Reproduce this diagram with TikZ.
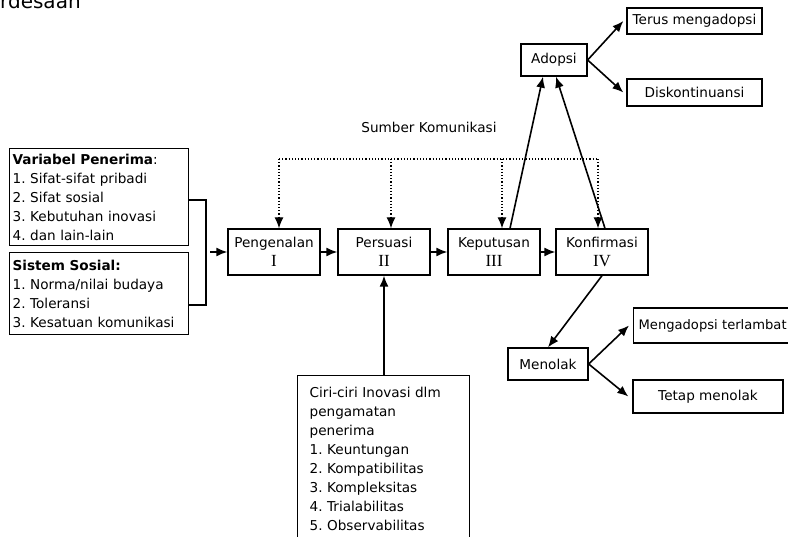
\documentclass[tikz,border=0pt]{standalone}
\usepackage{fontspec}
\setmainfont{DejaVu Sans}
\newfontfamily\romfont{Liberation Serif}
\usetikzlibrary{arrows.meta}
\frenchspacing
\newcommand\romnum[1]{{\romfont\fontsize{17}{19}\selectfont #1}}
\begin{document}
\begin{tikzpicture}[x=1pt, y=-1pt, font=\fontsize{13.6}{19}\selectfont,
  box/.style={draw=black, line width=1.3pt, inner sep=0pt, align=center},
  tahap/.style={box, minimum width=92pt, minimum height=46pt},
  daftar/.style={draw=black, line width=1.3pt, anchor=north west, align=left, inner xsep=3pt, inner ysep=2pt},
  arr/.style={line width=1.6pt, -{Latex[length=11pt,width=9pt]}},
  titik/.style={line width=1.2pt, dotted}]
\useasboundingbox (0,0) rectangle (788,537);
% Judul (terpotong di atas)
\node[anchor=base west, inner sep=0pt, font=\fontsize{20}{24}\selectfont] (judul) at (0,9) {rdesaan};
% Variabel penerima dan sistem sosial
\node[daftar, text width=173pt, minimum height=97pt] (varpen) at (9,148) {\textbf{Variabel Penerima}:\\1. Sifat-sifat pribadi\\2. Sifat sosial\\3. Kebutuhan inovasi\\4. dan lain-lain};
\node[daftar, text width=173pt, minimum height=82pt] (sissos) at (9,252) {\textbf{Sistem Sosial:}\\1. Norma/nilai budaya\\2. Toleransi\\3. Kesatuan komunikasi};
\coordinate (kA) at (206,200); \coordinate (kB) at (206,305);
\draw[line width=1.3pt] (varpen.east |- kA) -- (kA) -- (kB) -- (sissos.east |- kB);
% Tahapan keputusan
\node[tahap] (peng) at (274,252) {Pengenalan\\\romnum{I}};
\node[tahap] (pers) at (384,252) {Persuasi\\\romnum{II}};
\node[tahap] (kepu) at (494,252) {Keputusan\\\romnum{III}};
\node[tahap] (konf) at (602,252) {Konfirmasi\\\romnum{IV}};
\draw[arr] ([xshift=4pt]kA |- peng.west) -- (peng.west);
\foreach \a/\b in {peng/pers, pers/kepu, kepu/konf} \draw[arr] (\a) -- (\b);
% Sumber komunikasi
\node (sumber) at (429,127) {Sumber Komunikasi};
\coordinate (d1) at (279,159); \coordinate (d2) at (391,159); \coordinate (d3) at (502,159); \coordinate (d4) at (598,159);
\draw[titik] (d1) -- (d4);
\foreach \d/\t in {d1/peng, d2/pers, d3/kepu, d4/konf} \draw[arr, titik] (\d) -- (\d |- \t.north);
% Adopsi
\node[box, minimum width=66pt, minimum height=32pt] (adopsi) at (554,60) {Adopsi};
\node[box, minimum width=135pt, minimum height=26pt] (terus) at (694.5,21) {Terus mengadopsi};
\node[box, minimum width=135pt, minimum height=27pt] (disk) at (694.5,92.5) {Diskontinuansi};
\draw[arr] ([xshift=16pt]kepu.north) -- ([xshift=-11pt]adopsi.south);
\draw[arr] ([xshift=3pt]konf.north) -- ([xshift=2pt]adopsi.south);
\draw[arr] (adopsi.east) -- ([xshift=-3pt]terus.west);
\draw[arr] (adopsi.east) -- ([xshift=-3pt]disk.west);
% Menolak
\node[box, minimum width=80pt, minimum height=32pt] (menolak) at (548,364) {Menolak};
\node[box, anchor=west, text width=161pt, minimum height=35pt, align=left, inner xsep=5pt, font=\fontsize{13.1}{19}\selectfont] (telat) at (633,325.5) {Mengadopsi terlambat};
\node[box, minimum width=150pt, minimum height=33pt] (tetap) at (708,396.5) {Tetap menolak};
\draw[arr] (konf.south) -- (menolak.north);
\draw[arr] (menolak.east) -- ([xshift=-4pt]telat.west);
\draw[arr] (menolak.east) -- ([xshift=-4pt]tetap.west);
% Ciri-ciri inovasi
\node[box, anchor=north west, align=left, text width=148pt, inner xsep=12pt, inner ysep=12pt] (ciri) at (297,375) {Ciri-ciri Inovasi dlm\\pengamatan\\penerima\\1. Keuntungan\\2. Kompatibilitas\\3. Kompleksitas\\4. Trialabilitas\\5. Observabilitas};
\draw[arr] (ciri.north -| pers.south) -- (pers.south);
\end{tikzpicture}
\end{document}
